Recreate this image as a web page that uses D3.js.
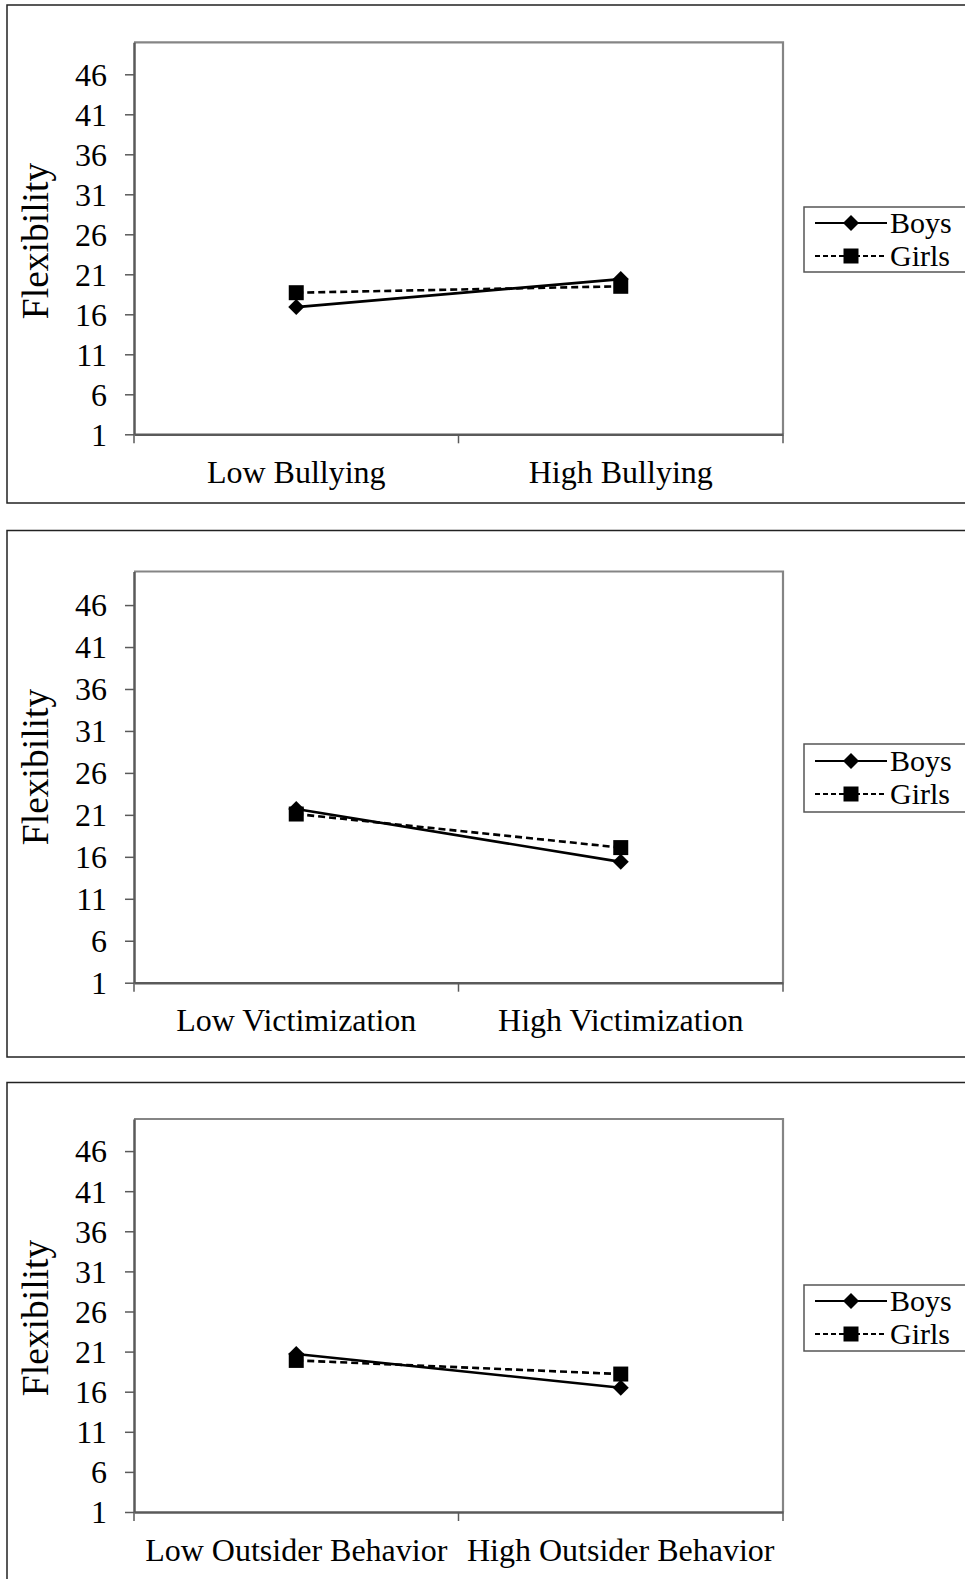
<!DOCTYPE html>
<html>
<head>
<meta charset="utf-8">
<script src="https://cdn.jsdelivr.net/npm/d3@7"></script>
<style>
  html, body { margin: 0; padding: 0; background: #fff; }
  svg { display: block; }
  text { font-family: "Liberation Serif", "Times New Roman", serif; fill: #000; }
</style>
</head>
<body>
<svg id="chart" width="965" height="1579"></svg>
<script>
// ---- data ----
const seriesNames = ["Boys", "Girls"];
const yTickValues = [1, 6, 11, 16, 21, 26, 31, 36, 41, 46];
const yDomain = [1, 50];
const yTitle = "Flexibility";

const categories1 = ["Low Bullying", "High Bullying"];
const boys1 = [16.9, 20.4];
const girls1 = [18.7, 19.5];

const categories2 = ["Low Victimization", "High Victimization"];
const boys2 = [21.7, 15.4];
const girls2 = [21.1, 17.1];

const categories3 = ["Low Outsider Behavior", "High Outsider Behavior"];
const boys3 = [20.7, 16.5];
const girls3 = [19.9, 18.2];

// ---- layout ----
const panels = [
  { cats: categories1, boys: boys1, girls: girls1,
    frameTop: 5, frameBottom: 503, plotTop: 42.3, plotBottom: 434.3,
    titleY: 241, legTop: 207, legBottom: 272, legRows: [223, 256] },
  { cats: categories2, boys: boys2, girls: girls2,
    frameTop: 530.5, frameBottom: 1057, plotTop: 571.5, plotBottom: 982.7,
    titleY: 767, legTop: 744, legBottom: 812, legRows: [761, 794] },
  { cats: categories3, boys: boys3, girls: girls3,
    frameTop: 1082.5, frameBottom: 1700, plotTop: 1119, plotBottom: 1512,
    titleY: 1318, legTop: 1285, legBottom: 1351, legRows: [1301, 1334] }
];

const plotLeft = 134, plotRight = 783;
const svg = d3.select("#chart");
const FS = 32;

const diamondPath = "M0,-8L8,0L0,8L-8,0Z";
const squarePath = "M-7.5,-7.5H7.5V7.5H-7.5Z";
const styles = [
  { name: seriesNames[0], dash: null, marker: diamondPath },
  { name: seriesNames[1], dash: "7,4", marker: squarePath }
];

panels.forEach(p => {
  const g = svg.append("g");

  // outer frame
  g.append("rect")
    .attr("x", 7).attr("y", p.frameTop)
    .attr("width", 1000).attr("height", p.frameBottom - p.frameTop)
    .attr("fill", "none").attr("stroke", "#222").attr("stroke-width", 1.5);

  const x = d3.scaleBand().domain(p.cats).range([plotLeft, plotRight]).padding(0);
  const y = d3.scaleLinear().domain(yDomain).range([p.plotBottom, p.plotTop]);

  // plot area border (top & right)
  g.append("path")
    .attr("d", `M${plotLeft},${y(yDomain[1])}H${plotRight}V${y(yDomain[0])}`)
    .attr("fill", "none").attr("stroke", "#858585").attr("stroke-width", 2.2);

  // y axis
  const yAxis = d3.axisLeft(y).tickValues(yTickValues).tickSize(9).tickSizeOuter(0).tickPadding(18);
  const ya = g.append("g").attr("transform", `translate(${plotLeft},0)`).call(yAxis);
  ya.select(".domain").attr("stroke", "#5a5a5a").attr("stroke-width", 2.5);
  ya.selectAll(".tick line").attr("stroke", "#5a5a5a").attr("stroke-width", 1.5);
  ya.selectAll(".tick text").attr("font-size", FS).attr("font-family", "Liberation Serif")
    .attr("fill", "#000").attr("dy", "0.34em");

  // x axis (labels at band centres)
  const xAxis = d3.axisBottom(x).tickSize(0).tickSizeOuter(0).tickPadding(0);
  const xa = g.append("g").attr("transform", `translate(0,${p.plotBottom})`).call(xAxis);
  xa.select(".domain").attr("stroke", "#5a5a5a").attr("stroke-width", 2.5);
  xa.selectAll(".tick line").remove();
  xa.selectAll(".tick text").attr("font-size", FS).attr("font-family", "Liberation Serif")
    .attr("fill", "#000").attr("dy", null).attr("y", 48.5);

  // x ticks at category boundaries
  const bounds = [x(p.cats[0])].concat(p.cats.map(c => x(c) + x.bandwidth()));
  g.selectAll(".xb").data(bounds).join("line")
    .attr("x1", d => d).attr("x2", d => d)
    .attr("y1", p.plotBottom).attr("y2", p.plotBottom + 9)
    .attr("stroke", "#5a5a5a").attr("stroke-width", 1.5);

  // y title (rotated; baseline on the right side)
  g.append("text")
    .attr("transform", `translate(48,${p.titleY}) rotate(-90)`)
    .attr("text-anchor", "middle")
    .attr("font-size", 37.5)
    .text(yTitle);

  // series
  const seriesData = [p.boys, p.girls];
  const line = d3.line().x((d, i) => x(p.cats[i]) + x.bandwidth() / 2).y(d => y(d));
  seriesData.forEach((vals, si) => {
    const st = styles[si];
    g.append("path").datum(vals)
      .attr("d", line)
      .attr("fill", "none").attr("stroke", "#000").attr("stroke-width", 2.6)
      .attr("stroke-dasharray", st.dash);
  });
  seriesData.forEach((vals, si) => {
    const st = styles[si];
    g.selectAll(null).data(vals).join("path")
      .attr("d", st.marker)
      .attr("transform", (d, i) => `translate(${x(p.cats[i]) + x.bandwidth() / 2},${y(d)})`)
      .attr("fill", "#000");
  });

  // legend
  g.append("rect")
    .attr("x", 804).attr("y", p.legTop)
    .attr("width", 300).attr("height", p.legBottom - p.legTop)
    .attr("fill", "#fff").attr("stroke", "#555").attr("stroke-width", 1.5);
  styles.forEach((st, si) => {
    const ly = p.legRows[si];
    g.append("line")
      .attr("x1", 815).attr("x2", 887).attr("y1", ly).attr("y2", ly)
      .attr("stroke", "#000").attr("stroke-width", 2.2)
      .attr("stroke-dasharray", st.dash ? "5,3" : null);
    g.append("path").attr("d", st.marker)
      .attr("transform", `translate(851,${ly})`).attr("fill", "#000");
    g.append("text")
      .attr("x", 890).attr("y", ly).attr("dy", "0.34em")
      .attr("font-size", 30)
      .text(st.name);
  });
});
</script>
</body>
</html>
